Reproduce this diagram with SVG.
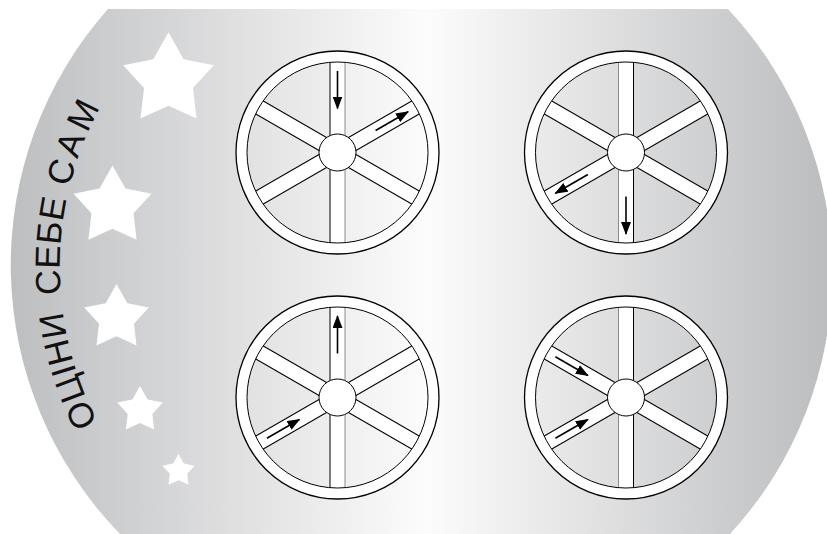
<svg xmlns="http://www.w3.org/2000/svg" xmlns:xlink="http://www.w3.org/1999/xlink" width="827" height="534" viewBox="0 0 827 534">
<style>
.edge{stroke:#000;stroke-width:1;fill:none}
.edgeg{stroke:#8a8a8a;stroke-width:1;fill:none}
.arrow{stroke:#000;stroke-width:1.6;fill:none;marker-end:url(#ah)}
.star{fill:#fff}
.label{font-family:"Liberation Sans",Arial,sans-serif;font-size:35px;fill:#111}
</style>
<defs>
<linearGradient id="bg" gradientUnits="userSpaceOnUse" x1="9" y1="0" x2="827" y2="0">
<stop offset="0" stop-color="#bdbec0"/>
<stop offset="0.51" stop-color="#fcfcfc"/>
<stop offset="1" stop-color="#bcbdbf"/>
</linearGradient>
<marker id="ah" viewBox="0 0 13 10" refX="12" refY="5" markerWidth="13" markerHeight="10" markerUnits="userSpaceOnUse" orient="auto">
<path d="M0,0 L13,5 L0,10 Z" fill="#000"/>
</marker>
<path id="starShape" d="M0,-10 L3.174,-4.369 L9.511,-3.09 L5.136,1.669 L5.878,8.09 L0,5.4 L-5.878,8.09 L-5.136,1.669 L-9.511,-3.09 L-3.174,-4.369 Z"/>
<g id="spokes">
<rect x="-7.5" y="-91" width="15" height="182" fill="#fff"/>
<g transform="rotate(60)">
<rect x="-7.5" y="-91" width="15" height="182" fill="#fff"/>
<line class="edge" x1="-7.5" y1="-91" x2="-7.5" y2="91"/>
<line class="edge" x1="7.5" y1="-91" x2="7.5" y2="91"/>
</g>
<g transform="rotate(-60)">
<rect x="-7.5" y="-91" width="15" height="182" fill="#fff"/>
<line class="edge" x1="-7.5" y1="-91" x2="-7.5" y2="91"/>
<line class="edge" x1="7.5" y1="-91" x2="7.5" y2="91"/>
</g>
</g>
<g id="rimhub">
<circle r="96" fill="none" stroke="#fff" stroke-width="11"/>
<circle r="101.5" fill="none" stroke="#000" stroke-width="1.3"/>
<circle r="90.5" fill="none" stroke="#000" stroke-width="1"/>
<circle r="18.5" fill="#fff" stroke="#000" stroke-width="1"/>
</g>
<path id="tp" d="M120.3,459.1 A335,335 0 0 1 120.3,74.9"/>
</defs>

<path id="background" d="M108,9 L728,9 A385.7,385.7 0 0 1 730,534 L120,534 A385.7,385.7 0 0 1 108,9 Z" fill="url(#bg)"/>

<g id="stars">
<use class="star" xlink:href="#starShape" href="#starShape" transform="translate(168.5,80) scale(4.77)"/>
<use class="star" xlink:href="#starShape" href="#starShape" transform="translate(112.5,206.5) scale(4.1)"/>
<use class="star" xlink:href="#starShape" href="#starShape" transform="translate(116.5,318) scale(3.4)"/>
<use class="star" xlink:href="#starShape" href="#starShape" transform="translate(140,410) scale(2.4)"/>
<use class="star" xlink:href="#starShape" href="#starShape" transform="translate(178.5,471) scale(1.7)"/>
</g>

<g id="title">
<text class="label"><textPath xlink:href="#tp" href="#tp" startOffset="43" textLength="117" lengthAdjust="spacing">ОЦІНИ</textPath></text>
<text class="label"><textPath xlink:href="#tp" href="#tp" startOffset="177" textLength="96" lengthAdjust="spacing">СЕБЕ</textPath></text>
<text class="label"><textPath xlink:href="#tp" href="#tp" startOffset="285" textLength="86" lengthAdjust="spacing">САМ</textPath></text>
</g>

<g id="wheel1" transform="translate(337.5,152.5)">
<use xlink:href="#spokes" href="#spokes"/>
<line class="edge" x1="-7.5" y1="-91" x2="-7.5" y2="91"/>
<line class="edgeg" x1="7.5" y1="-91" x2="7.5" y2="91"/>
<use xlink:href="#rimhub" href="#rimhub"/>
</g>
<g id="wheel2" transform="translate(626,152.5)">
<use xlink:href="#spokes" href="#spokes"/>
<line class="edgeg" x1="-7.5" y1="-91" x2="-7.5" y2="91"/>
<line class="edge" x1="7.5" y1="-91" x2="7.5" y2="91"/>
<use xlink:href="#rimhub" href="#rimhub"/>
</g>
<g id="wheel3" transform="translate(337.5,397.5)">
<use xlink:href="#spokes" href="#spokes"/>
<line class="edge" x1="-7.5" y1="-91" x2="-7.5" y2="91"/>
<line class="edgeg" x1="7.5" y1="-91" x2="7.5" y2="91"/>
<use xlink:href="#rimhub" href="#rimhub"/>
</g>
<g id="wheel4" transform="translate(626,397.5)">
<use xlink:href="#spokes" href="#spokes"/>
<line class="edgeg" x1="-7.5" y1="-91" x2="-7.5" y2="91"/>
<line class="edge" x1="7.5" y1="-91" x2="7.5" y2="91"/>
<use xlink:href="#rimhub" href="#rimhub"/>
</g>

<g id="connectors">
<line class="arrow" x1="337.5" y1="71" x2="337.5" y2="108.5"/>
<line class="arrow" x1="375.6" y1="130.5" x2="408.1" y2="111.75"/>
<line class="arrow" x1="587.9" y1="174.5" x2="555.4" y2="193.25"/>
<line class="arrow" x1="626" y1="196.5" x2="626" y2="234"/>
<line class="arrow" x1="337.5" y1="353.5" x2="337.5" y2="316"/>
<line class="arrow" x1="266.9" y1="438.25" x2="299.4" y2="419.5"/>
<line class="arrow" x1="555.4" y1="356.75" x2="587.9" y2="375.5"/>
<line class="arrow" x1="555.4" y1="438.25" x2="587.9" y2="419.5"/>
</g>
</svg>
